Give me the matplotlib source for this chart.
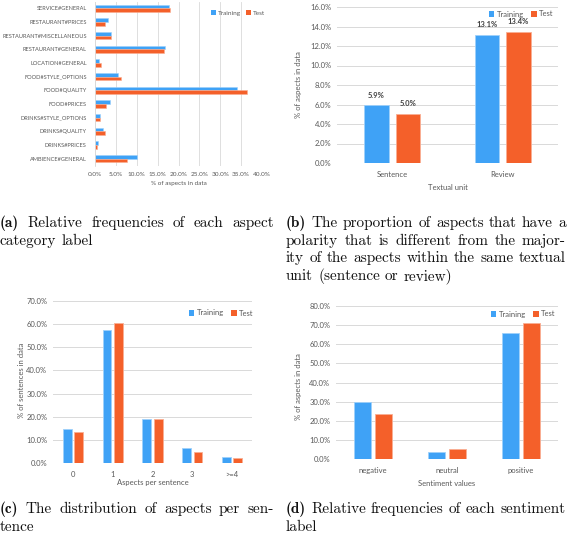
import matplotlib
matplotlib.use('Agg')
import matplotlib.pyplot as plt
from matplotlib.patches import Patch
import numpy as np

# data
cat_a = ['AMBIENCE#GENERAL', 'DRINKS#PRICES', 'DRINKS#QUALITY', 'DRINKS#STYLE_OPTIONS',
         'FOOD#PRICES', 'FOOD#QUALITY', 'FOOD#STYLE_OPTIONS', 'LOCATION#GENERAL',
         'RESTAURANT#GENERAL', 'RESTAURANT#MISCELLANEOUS', 'RESTAURANT#PRICES', 'SERVICE#GENERAL']
train_a = [10.1, 0.7, 1.8, 1.2, 3.5, 33.9, 5.4, 1.0, 16.8, 3.8, 3.0, 17.8]
test_a = [7.6, 0.4, 2.5, 1.3, 2.6, 36.4, 6.3, 1.4, 16.5, 3.8, 2.4, 18.0]

cat_b = ['Sentence', 'Review']
train_b = [5.9, 13.1]
test_b = [5.0, 13.4]

cat_c = ['0', '1', '2', '3', '>=4']
train_c = [14.6, 57.6, 19.0, 6.3, 2.5]
test_c = [13.2, 60.6, 19.0, 4.9, 2.3]

cat_d = ['negative', 'neutral', 'positive']
train_d = [29.8, 3.8, 65.9]
test_d = [23.7, 5.0, 71.0]

BLUE = '#3fa2f6'
ORANGE = '#f4602a'
BLUE_E = '#9fd1fb'
ORANGE_E = '#f9ae93'
GRID = '#d9d9d9'
TXT = '#595959'
SANS = 'Lato'

W, H = 568, 542
fig = plt.figure(figsize=(W / 100, H / 100), dpi=100)


def box(l, t, r, b):
    return [l / W, 1 - b / H, (r - l) / W, (b - t) / H]


def style(ax, fs):
    for s in ax.spines.values():
        s.set_visible(False)
    ax.tick_params(length=0, labelsize=fs, labelcolor=TXT)
    for lab in ax.get_xticklabels() + ax.get_yticklabels():
        lab.set_family(SANS)
    ax.set_axisbelow(True)


def legend(ax, bb, px, py, fs):
    l, t, r, b = bb
    handles = [Patch(facecolor=BLUE, edgecolor='none'), Patch(facecolor=ORANGE, edgecolor='none')]
    ax.legend(handles, ['Training', 'Test'], loc='center', ncol=2, frameon=False,
              bbox_to_anchor=((px - l) / (r - l), (b - py) / (b - t)),
              prop={'family': SANS, 'size': fs}, labelcolor=TXT,
              handlelength=0.75, handleheight=0.75, handletextpad=0.3, columnspacing=0.9,
              borderpad=0, borderaxespad=0)


def labels(ax, bb, xl, xpy, yl=None, ypx=None, ypy=None, fs=5.5):
    l, t, r, b = bb
    ax.set_xlabel(xl, family=SANS, size=fs, color=TXT, va='center')
    ax.xaxis.set_label_coords(0.5, (b - xpy) / (b - t))
    if yl:
        ax.set_ylabel(yl, family=SANS, size=fs, color=TXT, va='center')
        ax.yaxis.set_label_coords((ypx - l) / (r - l), (b - ypy) / (b - t))


def vbars(bb, cats, tr, te, ymax, ystep, xl, yl, ylab_x, ylab_y, xlab_y, leg, vals=False):
    ax = fig.add_axes(box(*bb))
    x = np.arange(len(cats))
    w = 0.22
    off = 0.142
    b1 = ax.bar(x - off, tr, w, color=BLUE, edgecolor=BLUE_E, linewidth=0.6)
    b2 = ax.bar(x + off, te, w, color=ORANGE, edgecolor=ORANGE_E, linewidth=0.6)
    ax.set_xlim(-0.5, len(cats) - 0.5)
    ax.set_ylim(0, ymax)
    ax.set_yticks(np.arange(0, ymax + 0.01, ystep))
    ax.set_yticklabels(['%.1f%%' % v for v in np.arange(0, ymax + 0.01, ystep)])
    ax.set_xticks(x)
    ax.set_xticklabels(cats)
    ax.yaxis.grid(True, color=GRID, linewidth=0.7)
    style(ax, 5.5)
    ax.tick_params(axis='x', pad=6)
    ax.tick_params(axis='y', pad=4)
    labels(ax, bb, xl, xlab_y, yl, ylab_x, ylab_y)
    legend(ax, bb, leg[0], leg[1], 5.5)
    if vals:
        for bars in (b1, b2):
            for rect in bars:
                h = rect.get_height()
                ax.annotate('%.1f%%' % h, (rect.get_x() + rect.get_width() / 2, h),
                            xytext=(0, 5), textcoords='offset points', ha='center', va='bottom',
                            family=SANS, size=5.5, weight='bold', color='#404040')
    return ax


# (a) horizontal bars
bb_a = (95, 1.5, 262, 165.5)
ax = fig.add_axes(box(*bb_a))
y = np.arange(len(cat_a))
ax.barh(y + 0.13, train_a, 0.26, color=BLUE, edgecolor=BLUE_E, linewidth=0.4)
ax.barh(y - 0.13, test_a, 0.26, color=ORANGE, edgecolor=ORANGE_E, linewidth=0.4)
ax.set_ylim(-0.5, len(cat_a) - 0.5)
ax.set_xlim(0, 40)
ax.set_xticks(np.arange(0, 41, 5))
ax.set_xticklabels(['%.1f%%' % v for v in np.arange(0, 41, 5)])
ax.set_yticks(y)
ax.set_yticklabels(cat_a)
ax.xaxis.grid(True, color=GRID, linewidth=0.6)
style(ax, 4.6)
ax.tick_params(axis='y', labelsize=4.1, pad=6)
ax.spines['left'].set_visible(True)
ax.spines['left'].set_color(GRID)
ax.spines['left'].set_linewidth(0.6)
ax.tick_params(axis='x', pad=5)
labels(ax, bb_a, '% of aspects in data', 184, fs=4.6)
legend(ax, bb_a, 238, 13, 4.6)

# (b)
vbars((337, 7, 558, 163), cat_b, train_b, test_b, 16, 2, 'Textual unit', '% of aspects in data',
      299, 85, 187, (521, 14), vals=True)
# (c)
vbars((53, 301, 252, 463), cat_c, train_c, test_c, 70, 10, 'Aspects per sentence',
      '% of sentences in data', 21, 380, 483, (221, 313))
# (d)
vbars((336, 306, 558, 459), cat_d, train_d, test_d, 80, 10, 'Sentiment values',
      '% of aspects in data', 299, 387, 483, (523, 314))

# captions
renderer = fig.canvas.get_renderer()
CAP = 11


def cap_line(words, x0, x1, py, justify=True, bold_first=False):
    texts = []
    for i, wd in enumerate(words):
        fam = 'cmb10' if (bold_first and i == 0) else 'cmr10'
        t = fig.text(0, 1 - py / H, wd, family=fam, size=CAP, va='center', ha='left', color='#111111')
        texts.append(t)
    widths = [t.get_window_extent(renderer).width for t in texts]
    if justify and len(words) > 1:
        gap = (x1 - x0 - sum(widths)) / (len(words) - 1)
    else:
        gap = CAP * 100 / 72 * 0.33
    x = x0
    for t, wdt in zip(texts, widths):
        t.set_x(x / W)
        x += wdt + gap


cap_line(['(a)', 'Relative', 'frequencies', 'of', 'each', 'aspect'], 0, 274, 223, bold_first=True)
cap_line(['category', 'label'], 0, 274, 241, justify=False)

cap_line(['(b)', 'The', 'proportion', 'of', 'aspects', 'that', 'have', 'a'], 286, 566, 223, bold_first=True)
cap_line('polarity that is different from the major-'.split(), 286, 566, 241)
cap_line('ity of the aspects within the same textual'.split(), 286, 566, 258)
cap_line('unit (sentence or review)'.split(), 286, 566, 276, justify=False)

cap_line(['(c)', 'The', 'distribution', 'of', 'aspects', 'per', 'sen-'], 0, 274, 509, bold_first=True)
cap_line(['tence'], 0, 274, 527, justify=False)

cap_line(['(d)', 'Relative', 'frequencies', 'of', 'each', 'sentiment'], 286, 566, 509, bold_first=True)
cap_line(['label'], 286, 566, 527, justify=False)

fig.savefig('out.png', dpi=100)
